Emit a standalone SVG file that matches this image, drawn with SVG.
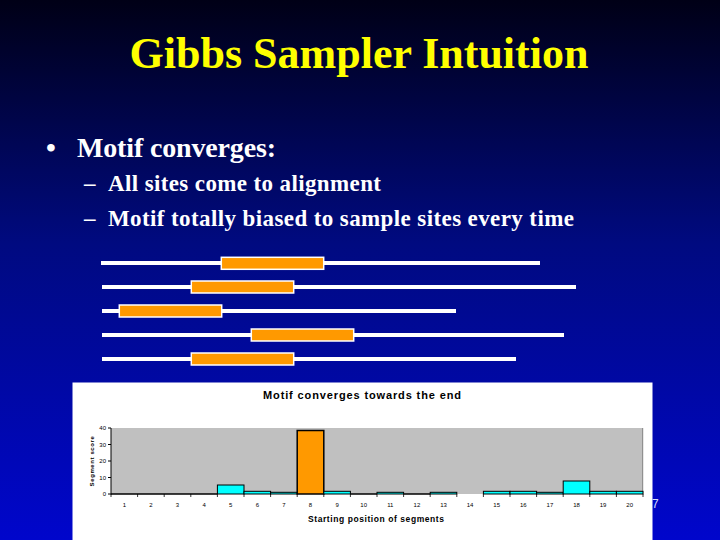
<svg xmlns="http://www.w3.org/2000/svg" width="720" height="540" viewBox="0 0 720 540">
<defs>
<linearGradient id="bg" x1="0" y1="0" x2="0" y2="1">
<stop offset="0" stop-color="#000016"/>
<stop offset="0.45" stop-color="#000a80"/>
<stop offset="1" stop-color="#0006cc"/>
</linearGradient>
<style>
.title{font-family:"Liberation Serif","Times New Roman",serif;font-weight:bold;font-size:44px;fill:#ffff00}
.b1{font-family:"Liberation Serif","Times New Roman",serif;font-weight:bold;font-size:28px;fill:#ffffff}
.b2{font-family:"Liberation Serif","Times New Roman",serif;font-weight:bold;font-size:23px;fill:#ffffff}
.seq{stroke:#ffffff;stroke-width:4}
.site{fill:#ff9900;stroke:#ffffff;stroke-width:1.5}
.cy{fill:#00ffff;stroke:#000000;stroke-width:1}
.ax{font-family:"Liberation Sans",Arial,sans-serif;font-size:6px;fill:#000000}
.ct{font-family:"Liberation Sans",Arial,sans-serif;font-weight:bold;font-size:11px;fill:#000000}
.at{font-family:"Liberation Sans",Arial,sans-serif;font-weight:bold;font-size:8.5px;fill:#000000}
</style>
</defs>
<rect x="0" y="0" width="720" height="540" fill="url(#bg)"/>
<text class="title" x="359" y="68" text-anchor="middle">Gibbs Sampler Intuition</text>
<g id="bullets">
<text class="b1" x="46" y="157">•</text>
<text class="b1" x="77" y="157" textLength="199" lengthAdjust="spacing">Motif converges:</text>
<text class="b2" x="84" y="191">–</text>
<text class="b2" x="108" y="191" textLength="273" lengthAdjust="spacing">All sites come to alignment</text>
<text class="b2" x="84" y="226">–</text>
<text class="b2" x="108" y="226" textLength="466" lengthAdjust="spacing">Motif totally biased to sample sites every time</text>
</g>
<g id="sequences">
<g id="seq1"><line class="seq" x1="101" y1="263" x2="540" y2="263"/><rect class="site" x="221.3" y="257.3" width="102.4" height="12"/></g>
<g id="seq2"><line class="seq" x1="102" y1="287" x2="576" y2="287"/><rect class="site" x="191.3" y="281" width="102.4" height="12"/></g>
<g id="seq3"><line class="seq" x1="102" y1="311" x2="456" y2="311"/><rect class="site" x="119.3" y="305" width="102.4" height="12"/></g>
<g id="seq4"><line class="seq" x1="102" y1="335" x2="564" y2="335"/><rect class="site" x="251.3" y="329" width="102.4" height="12"/></g>
<g id="seq5"><line class="seq" x1="102" y1="359" x2="516" y2="359"/><rect class="site" x="191.3" y="353" width="102.4" height="12"/></g>
</g>
<text x="652" y="508" font-family="Liberation Sans, Arial, sans-serif" font-size="12" fill="#d8dcff">7</text>
<g id="chart">
<rect x="72.5" y="382.5" width="580" height="158" fill="#ffffff"/>
<text class="ct" x="263" y="399" textLength="198" lengthAdjust="spacing">Motif converges towards the end</text>
<rect x="111" y="428" width="531.7" height="66" fill="#c0c0c0"/>
<line x1="642.7" y1="428" x2="642.7" y2="494" stroke="#808080" stroke-width="1"/>
<g id="axes" stroke="#000000" stroke-width="1">
<line x1="111" y1="428" x2="111" y2="494.5"/>
<line x1="108" y1="428" x2="111" y2="428"/>
<line x1="108" y1="444.5" x2="111" y2="444.5"/>
<line x1="108" y1="461" x2="111" y2="461"/>
<line x1="108" y1="477.5" x2="111" y2="477.5"/>
<line x1="108" y1="494" x2="111" y2="494"/>
</g>
<g id="yl" class="ax" text-anchor="end">
<text x="106" y="430">40</text>
<text x="106" y="446.5">30</text>
<text x="106" y="463">20</text>
<text x="106" y="479.5">10</text>
<text x="106" y="496">0</text>
</g>
<text class="ax" font-weight="bold" font-size="7" letter-spacing="0.6" transform="translate(94,461) rotate(-90)" text-anchor="middle">Segment score</text>
<g id="bars">
<line x1="111" y1="494" x2="217.4" y2="494" stroke="#000000" stroke-width="1.5"/>
<line x1="350.4" y1="494" x2="377" y2="494" stroke="#000000" stroke-width="1.5"/>
<line x1="403.6" y1="494" x2="430.2" y2="494" stroke="#000000" stroke-width="1.5"/>
<rect class="cy" x="217.4" y="485" width="26.6" height="9"/>
<rect class="cy" x="244" y="491.3" width="26.6" height="2.7"/>
<rect class="cy" x="270.6" y="492.3" width="26.6" height="1.7"/>
<rect x="297.2" y="430.5" width="26.6" height="63.5" fill="#ff9900" stroke="#000000" stroke-width="1.5"/>
<rect class="cy" x="323.8" y="491.3" width="26.6" height="2.7"/>
<rect class="cy" x="377" y="492.3" width="26.6" height="1.7"/>
<rect class="cy" x="430.2" y="492.3" width="26.6" height="1.7"/>
<rect class="cy" x="483.4" y="491.3" width="26.6" height="2.7"/>
<rect class="cy" x="510" y="491.3" width="26.6" height="2.7"/>
<rect class="cy" x="536.6" y="492.3" width="26.6" height="1.7"/>
<rect class="cy" x="563.2" y="481" width="26.6" height="13"/>
<rect class="cy" x="589.8" y="491.3" width="26.6" height="2.7"/>
<rect class="cy" x="616.4" y="491.3" width="26.6" height="2.7"/>
</g>
<g id="xticks" stroke="#000000" stroke-width="0.8">
<line x1="111" y1="494" x2="111" y2="497"/><line x1="137.6" y1="494" x2="137.6" y2="497"/><line x1="164.2" y1="494" x2="164.2" y2="497"/><line x1="190.8" y1="494" x2="190.8" y2="497"/><line x1="217.4" y1="494" x2="217.4" y2="497"/><line x1="244" y1="494" x2="244" y2="497"/><line x1="270.6" y1="494" x2="270.6" y2="497"/><line x1="297.2" y1="494" x2="297.2" y2="497"/><line x1="323.8" y1="494" x2="323.8" y2="497"/><line x1="350.4" y1="494" x2="350.4" y2="497"/><line x1="377" y1="494" x2="377" y2="497"/><line x1="403.6" y1="494" x2="403.6" y2="497"/><line x1="430.2" y1="494" x2="430.2" y2="497"/><line x1="456.8" y1="494" x2="456.8" y2="497"/><line x1="483.4" y1="494" x2="483.4" y2="497"/><line x1="510" y1="494" x2="510" y2="497"/><line x1="536.6" y1="494" x2="536.6" y2="497"/><line x1="563.2" y1="494" x2="563.2" y2="497"/><line x1="589.8" y1="494" x2="589.8" y2="497"/><line x1="616.4" y1="494" x2="616.4" y2="497"/><line x1="643" y1="494" x2="643" y2="497"/>
</g>
<g id="xl" class="ax" text-anchor="middle">
<text x="124.3" y="507">1</text><text x="150.9" y="507">2</text><text x="177.5" y="507">3</text><text x="204.1" y="507">4</text><text x="230.7" y="507">5</text><text x="257.3" y="507">6</text><text x="283.9" y="507">7</text><text x="310.5" y="507">8</text><text x="337.1" y="507">9</text><text x="363.7" y="507">10</text><text x="390.3" y="507">11</text><text x="416.9" y="507">12</text><text x="443.5" y="507">13</text><text x="470.1" y="507">14</text><text x="496.7" y="507">15</text><text x="523.3" y="507">16</text><text x="549.9" y="507">17</text><text x="576.5" y="507">18</text><text x="603.1" y="507">19</text><text x="629.7" y="507">20</text>
</g>
<text class="at" x="308" y="522" textLength="136" lengthAdjust="spacing">Starting position of segments</text>
</g>
</svg>
